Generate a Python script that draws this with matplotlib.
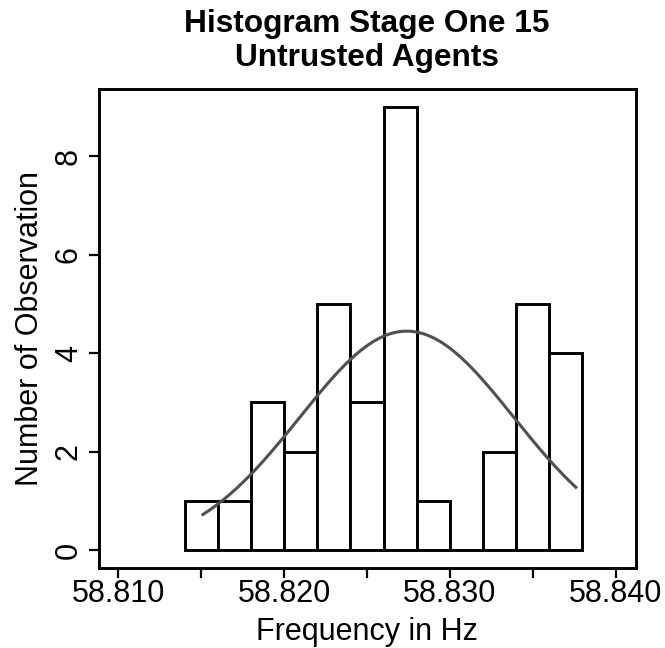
import numpy as np
import matplotlib
matplotlib.use('Agg')
import matplotlib.pyplot as plt

plt.rcParams['font.family'] = ['Liberation Sans', 'DejaVu Sans']

# 直方图数据
bin_edges = [58.814, 58.816, 58.818, 58.820, 58.822, 58.824, 58.826,
             58.828, 58.830, 58.832, 58.834, 58.836, 58.838]
counts = [1, 1, 3, 2, 5, 3, 9, 1, 0, 2, 5, 4]

# 正态曲线参数
fit_mean = 58.8274
fit_sd = 0.00646
curve_from = 58.8151
curve_to = 58.8376

x_ticks = [58.810, 58.815, 58.820, 58.825, 58.830, 58.835, 58.840]
x_labels = ['58.810', '', '58.820', '', '58.830', '', '58.840']
y_ticks = [0, 2, 4, 6, 8]

fig = plt.figure(figsize=(6.65, 6.48), dpi=100)
ax = fig.add_axes([98.5 / 665, 1 - 568 / 648, 537 / 665, 479 / 648])

# 画柱子
lefts = bin_edges[:-1]
widths = np.diff(bin_edges)
ax.bar(lefts, counts, width=widths, align='edge', color='white',
       edgecolor='black', linewidth=2.1)

# 拟合曲线
n = sum(counts)
bw = widths[0]
xs = np.linspace(curve_from, curve_to, 200)
ys = n * bw * np.exp(-0.5 * ((xs - fit_mean) / fit_sd) ** 2) / (fit_sd * np.sqrt(2 * np.pi))
ax.plot(xs, ys, color='#505050', linewidth=2.2)

ax.set_xlim(58.8088, 58.8412)
ax.set_ylim(-0.36, 9.36)

ax.set_xticks(x_ticks)
ax.set_xticklabels(x_labels, fontsize=22)
ax.set_yticks(y_ticks)
ax.set_yticklabels([str(v) for v in y_ticks], fontsize=22, rotation=90, va='center')
ax.tick_params(axis='both', length=7.5, width=1.6)
ax.tick_params(axis='x', pad=0.5)
ax.tick_params(axis='y', pad=3)

for s in ax.spines.values():
    s.set_linewidth(2.1)

ax.set_xlabel('Frequency in Hz', fontsize=22)
ax.xaxis.set_label_coords(0.5, -0.102)
ax.set_ylabel('Number of Observation', fontsize=22)
ax.yaxis.set_label_coords(-0.100, 0.5)

fig.text(0.5 * (98.5 + 635.5) / 665, 1 - 9 / 648, 'Histogram Stage One 15\nUntrusted Agents',
         ha='center', va='top', fontsize=22.8, fontweight='bold', linespacing=1.18)

fig.savefig('out.png', dpi=100)
